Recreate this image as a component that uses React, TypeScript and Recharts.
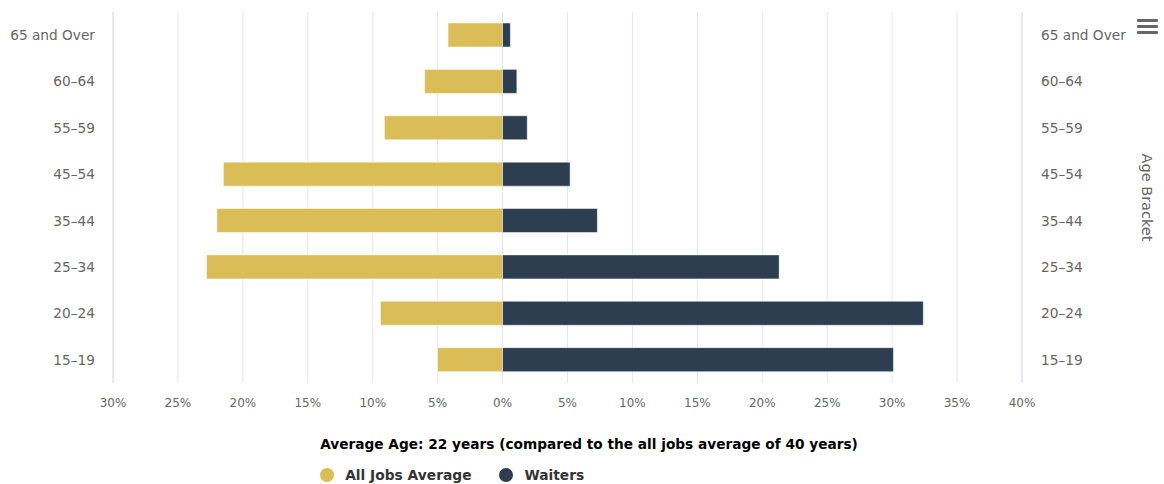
import React from 'react';
import { BarChart, Bar, XAxis, YAxis, CartesianGrid, Legend } from 'recharts';

const categories = ['65 and Over', '60–64', '55–59', '45–54', '35–44', '25–34', '20–24', '15–19'];
const allJobsAverage = [4.2, 6.0, 9.1, 21.5, 22.0, 22.8, 9.4, 5.0];
const waiters = [0.6, 1.1, 1.9, 5.2, 7.3, 21.3, 32.4, 30.1];
const xTicks = [-30, -25, -20, -15, -10, -5, 0, 5, 10, 15, 20, 25, 30, 35, 40];
const seriesNames = ['All Jobs Average', 'Waiters'];
const seriesColors = ['#dbbd58', '#2c3e4f'];
const legendTitle = 'Average Age: 22 years (compared to the all jobs average of 40 years)';
const axisTitle = 'Age Bracket';

const data = categories.map((c, i) => ({
  category: c,
  allJobs: -allJobsAverage[i],
  waiters: waiters[i],
}));

const FONT = '"DejaVu Sans", Verdana, sans-serif';

const renderLegend = () => (
  <div style={{ display: 'flex', justifyContent: 'center', width: '100%', fontFamily: FONT }}>
    <div style={{ display: 'inline-block', textAlign: 'left' }}>
      <div style={{ fontWeight: 'bold', fontSize: 13.7, color: '#000', lineHeight: '16px', whiteSpace: 'nowrap' }}>
        {legendTitle}
      </div>
      <div style={{ display: 'flex', alignItems: 'center', marginTop: 15 }}>
        {seriesNames.map((n, i) => (
          <div key={n} style={{ display: 'flex', alignItems: 'center', marginRight: 28 }}>
            <span
              style={{
                display: 'inline-block',
                width: 14,
                height: 14,
                borderRadius: 7,
                background: seriesColors[i],
                marginRight: 11,
              }}
            />
            <span style={{ fontWeight: 'bold', fontSize: 13.8, color: '#333', lineHeight: '16px' }}>{n}</span>
          </div>
        ))}
      </div>
    </div>
  </div>
);

export default function App() {
  return (
    <div style={{ position: 'absolute', left: 0, top: 0, width: 1164, height: 484, background: '#fff' }}>
      <BarChart
        width={1164}
        height={484}
        data={data}
        layout="vertical"
        stackOffset="sign"
        barSize={24}
        margin={{ top: 12, right: 0, bottom: 71, left: 0 }}
      >
        <CartesianGrid horizontal={false} stroke="#e6e6e6" />
        <XAxis
          type="number"
          domain={[-30, 40]}
          ticks={xTicks}
          height={30}
          axisLine={false}
          tickLine={false}
          tickSize={0}
          tickMargin={15}
          interval={0}
          tickFormatter={(v: number) => `${Math.abs(v)}%`}
          tick={{ fill: '#666666', fontSize: 12, fontFamily: FONT }}
        />
        <YAxis
          yAxisId="left"
          type="category"
          dataKey="category"
          width={113}
          axisLine={{ stroke: '#d8deea' }}
          tickLine={false}
          tickSize={0}
          tickMargin={18}
          interval={0}
          tick={{ fill: '#666666', fontSize: 13.7, fontFamily: FONT }}
        />
        <YAxis
          yAxisId="right"
          orientation="right"
          type="category"
          dataKey="category"
          width={142}
          axisLine={{ stroke: '#d8deea' }}
          tickLine={false}
          tickSize={0}
          tickMargin={19}
          interval={0}
          tick={{ fill: '#666666', fontSize: 13.7, fontFamily: FONT, textAnchor: 'start' }}
          label={{
            value: axisTitle,
            angle: 90,
            position: 'center',
            dx: 54,
            fill: '#666666',
            fontSize: 14.5,
            fontFamily: FONT,
          }}
        />
        <Legend
          layout="horizontal"
          verticalAlign="middle"
          align="center"
          wrapperStyle={{ top: 436, left: 14, width: 1150 }}
          content={renderLegend}
        />
        <Bar
          yAxisId="left"
          dataKey="allJobs"
          name={seriesNames[0]}
          stackId="s"
          fill={seriesColors[0]}
          stroke="#ffffff"
          strokeWidth={0.5}
          isAnimationActive={false}
        />
        <Bar
          yAxisId="left"
          dataKey="waiters"
          name={seriesNames[1]}
          stackId="s"
          fill={seriesColors[1]}
          stroke="#ffffff"
          strokeWidth={0.5}
          isAnimationActive={false}
        />
      </BarChart>
      <div style={{ position: 'absolute', left: 1137, top: 19, width: 21 }}>
        {[0, 1, 2].map((k) => (
          <div key={k} style={{ height: 3, background: '#666666', marginBottom: 3, borderRadius: 1 }} />
        ))}
      </div>
    </div>
  );
}
